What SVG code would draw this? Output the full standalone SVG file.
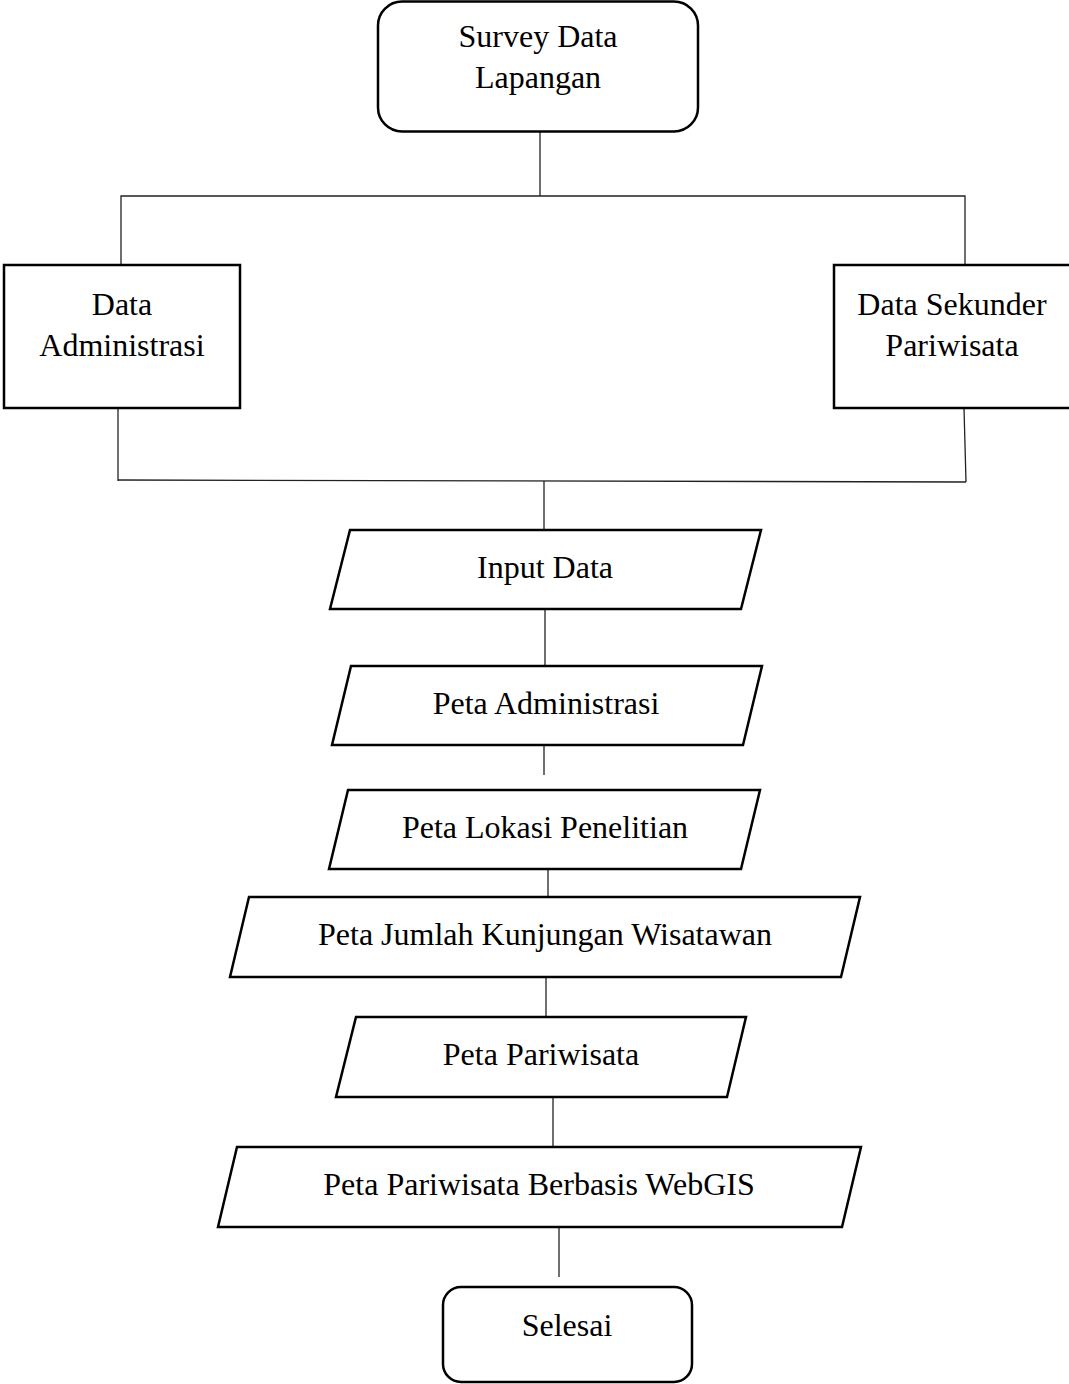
<svg xmlns="http://www.w3.org/2000/svg" width="1069" height="1384" viewBox="0 0 1069 1384">
<style>
.n{fill:#fff;stroke:#000;stroke-width:2.5}
.c{fill:none;stroke:#222;stroke-width:1.3}
text{font-family:"Liberation Serif","Times New Roman",serif;font-size:32px;fill:#000;text-anchor:middle}
</style>
<rect width="1069" height="1384" fill="#fff"/>
<g id="connectors">
<line class="c" x1="540" y1="132" x2="540" y2="196"/>
<polyline class="c" points="121,265 121,196 965,196 965,265"/>
<line class="c" x1="118" y1="408" x2="118" y2="481"/>
<line class="c" x1="964" y1="408" x2="966" y2="482"/>
<line class="c" x1="118" y1="480" x2="966" y2="482"/>
<line class="c" x1="544" y1="481" x2="544" y2="530"/>
<line class="c" x1="545" y1="609" x2="545" y2="666"/>
<line class="c" x1="544" y1="745" x2="544" y2="775"/>
<line class="c" x1="548" y1="869" x2="548" y2="897"/>
<line class="c" x1="546" y1="977" x2="546" y2="1017"/>
<line class="c" x1="553" y1="1097" x2="553" y2="1147"/>
<line class="c" x1="559" y1="1227" x2="559" y2="1277"/>
</g>
<g id="survey">
<rect class="n" x="378" y="1.5" width="320" height="130" rx="24"/>
<text x="538" y="47">Survey Data</text>
<text x="538" y="88">Lapangan</text>
</g>
<g id="data-administrasi">
<rect class="n" x="4" y="265" width="236" height="143"/>
<text x="122" y="315">Data</text>
<text x="122" y="356">Administrasi</text>
</g>
<g id="data-sekunder">
<rect class="n" x="834" y="265" width="240" height="143"/>
<text x="952" y="315">Data Sekunder</text>
<text x="952" y="356">Pariwisata</text>
</g>
<g id="input-data">
<polygon class="n" points="350,530 761,530 741,609 330,609"/>
<text x="545" y="578">Input Data</text>
</g>
<g id="peta-administrasi">
<polygon class="n" points="351,666 762,666 743,745 332,745"/>
<text x="546" y="714">Peta Administrasi</text>
</g>
<g id="peta-lokasi">
<polygon class="n" points="348,790 760,790 741,869 329,869"/>
<text x="545" y="838">Peta Lokasi Penelitian</text>
</g>
<g id="peta-jumlah">
<polygon class="n" points="249,897 860,897 841,977 230,977"/>
<text x="545" y="945">Peta Jumlah Kunjungan Wisatawan</text>
</g>
<g id="peta-pariwisata">
<polygon class="n" points="356,1017 746,1017 727,1097 336,1097"/>
<text x="541" y="1065">Peta Pariwisata</text>
</g>
<g id="peta-webgis">
<polygon class="n" points="237,1147 861,1147 842,1227 218,1227"/>
<text x="539" y="1195">Peta Pariwisata Berbasis WebGIS</text>
</g>
<g id="selesai">
<rect class="n" x="443" y="1287" width="249" height="95" rx="18"/>
<text x="567" y="1336">Selesai</text>
</g>
</svg>
